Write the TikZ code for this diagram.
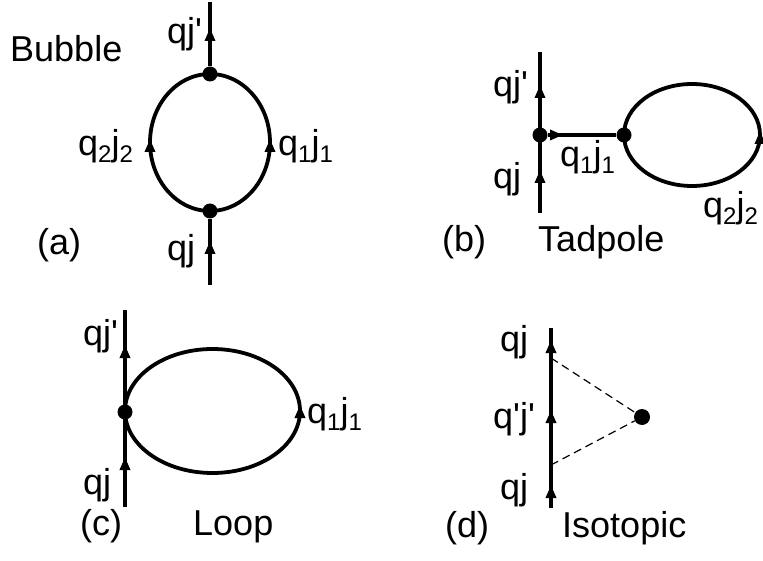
\documentclass[tikz,border=0pt]{standalone}
\usepackage{fontspec}
\setmainfont{Liberation Sans}
\usetikzlibrary{arrows.meta}
\newcommand\lowsub[1]{\raisebox{-7pt}{\fontsize{24}{24}\selectfont #1}}
\newcommand\sq{\textquotesingle}
\tikzset{
  fline/.style={line width=3.8pt},
  vdot/.style={circle, fill=black, inner sep=0pt, minimum size=15pt},
  lbl/.style={font=\fontsize{36}{40}\selectfont, inner sep=0pt, anchor=base west},
  tipw/.style={-{Triangle[width=10pt,length=13pt]}, line width=3.5pt},
  dline/.style={line width=1.2pt, dash pattern=on 8pt off 5pt}
}
\begin{document}
\begin{tikzpicture}[x=1pt,y=-1pt]
\useasboundingbox (0,0) rectangle (763,561);
% ---------- (a) Bubble ----------
\coordinate (aS) at (210,285);
\coordinate (aE) at (210,2);
\coordinate (aC) at (210,142.5);
\node[vdot] (aT) at (210,74) {};
\node[vdot] (aB) at (210,211) {};
\draw[fline] (aS) -- (aB);
\draw[fline] (aT) -- (aE);
\draw[fline] (aC) ellipse [x radius=60pt, y radius=68.5pt];
\draw[tipw] (210,41) -- (210,28);
\draw[tipw] (210,254) -- (210,241);
\draw[tipw] (150,152) -- (150,139);
\draw[tipw] (270,152) -- (270,139);
\node[lbl] (aL1) at (10,62) {Bubble};
\node[lbl] (aL2) at (167,44) {qj\sq};
\node[lbl] (aL3) at (78,156) {q\lowsub{2}j\lowsub{2}};
\node[lbl] (aL4) at (278,156) {q\lowsub{1}j\lowsub{1}};
\node[lbl] (aL5) at (37,255) {(a)};
\node[lbl] (aL6) at (167,261) {qj};
% ---------- (b) Tadpole ----------
\coordinate (bS) at (540,213);
\coordinate (bE) at (540,52);
\coordinate (bC) at (692,135);
\node[vdot] (b1) at (540,135) {};
\node[vdot] (b2) at (624,135) {};
\draw[fline] (bS) -- (bE);
\draw[fline] (b1) -- (b2);
\draw[fline] (bC) ellipse [x radius=68pt, y radius=51pt];
\draw[tipw] (540,98) -- (540,85);
\draw[tipw] (540,183) -- (540,170);
\draw[tipw] (550,135) -- (563,135);
\draw[tipw] (760,144) -- (760,131);
\node[lbl] (bL1) at (493,97) {qj\sq};
\node[lbl] (bL2) at (493,189) {qj};
\node[lbl] (bL3) at (560,167) {q\lowsub{1}j\lowsub{1}};
\node[lbl] (bL4) at (703,218) {q\lowsub{2}j\lowsub{2}};
\node[lbl] (bL5) at (442,252) {(b)};
\node[lbl] (bL6) at (538,252) {Tadpole};
% ---------- (c) Loop ----------
\coordinate (cS) at (125,507);
\coordinate (cE) at (125,310);
\coordinate (cC) at (212.5,411);
\node[vdot] (c1) at (125,412) {};
\draw[fline] (cS) -- (cE);
\draw[fline] (cC) ellipse [x radius=87.5pt, y radius=62pt];
\draw[tipw] (125,358) -- (125,345);
\draw[tipw] (125,470) -- (125,457);
\draw[tipw] (300,418) -- (300,405);
\node[lbl] (cL1) at (83,345) {qj\sq};
\node[lbl] (cL2) at (83,494) {qj};
\node[lbl] (cL3) at (307,423) {q\lowsub{1}j\lowsub{1}};
\node[lbl] (cL4) at (80,535) {(c)};
\node[lbl] (cL5) at (193,535) {Loop};
% ---------- (d) Isotopic ----------
\coordinate (dS) at (551,508);
\coordinate (dE) at (551,328);
\coordinate (dU) at (551,358);
\coordinate (dL) at (551,465);
\node[vdot, minimum size=16pt] (dP) at (642,417) {};
\draw[fline] (dS) -- (dE);
\draw[dline] (dU) -- (dP);
\draw[dline] (dL) -- (dP);
\draw[tipw] (551,353) -- (551,340);
\draw[tipw] (551,423) -- (551,410);
\draw[tipw] (551,498) -- (551,485);
\node[lbl] (dL1) at (500,351) {qj};
\node[lbl] (dL2) at (493,428) {q\sq j\sq};
\node[lbl] (dL3) at (500,499) {qj};
\node[lbl] (dL4) at (445,537) {(d)};
\node[lbl] (dL5) at (562,537) {Isotopic};
\end{tikzpicture}
\end{document}
